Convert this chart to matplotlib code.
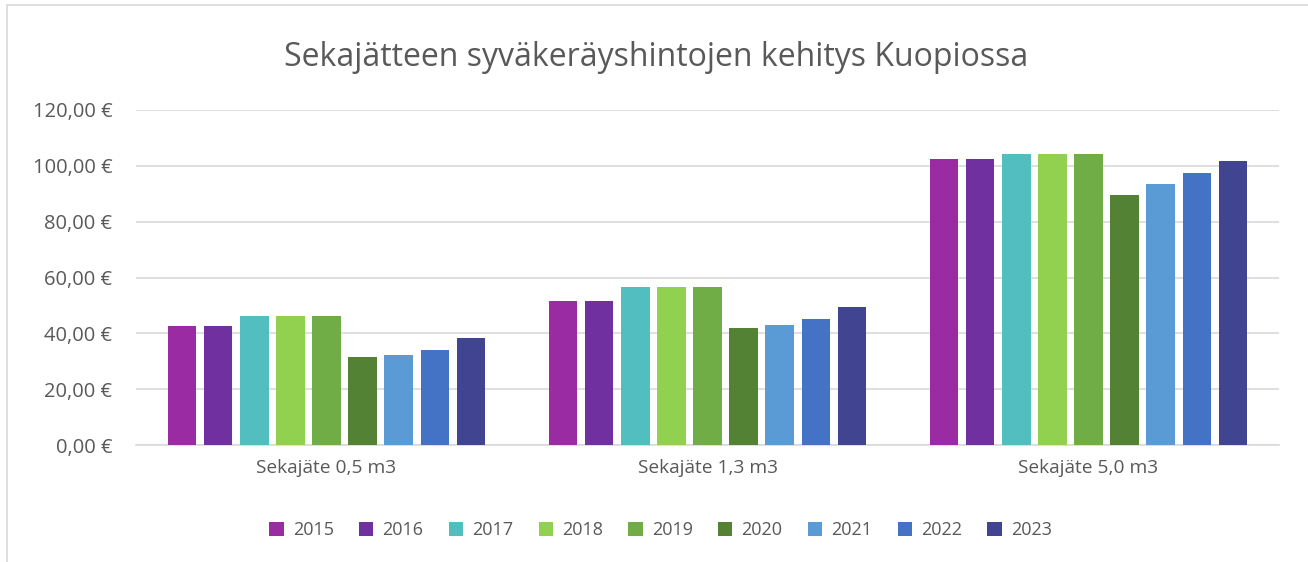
import numpy as np
from matplotlib import pyplot as plt
from matplotlib.ticker import FuncFormatter
from matplotlib.patches import Rectangle

categories = ['Sekajäte 0,5 m3', 'Sekajäte 1,3 m3', 'Sekajäte 5,0 m3']
years = ['2015', '2016', '2017', '2018', '2019', '2020', '2021', '2022', '2023']
prices = [
    [42.6, 51.6, 102.3],   # 2015
    [42.6, 51.6, 102.3],   # 2016
    [46.3, 56.7, 104.2],   # 2017
    [46.3, 56.7, 104.2],   # 2018
    [46.3, 56.7, 104.2],   # 2019
    [31.6, 41.9, 89.4],    # 2020
    [32.1, 42.9, 93.4],    # 2021
    [34.2, 45.2, 97.4],    # 2022
    [38.2, 49.5, 101.6],   # 2023
]
colors = ['#9B2BA3', '#7030A0', '#52BEC0', '#92D050', '#70AD47',
          '#548235', '#5B9BD5', '#4472C4', '#404491']

plt.rcParams['font.family'] = ['Open Sans', 'DejaVu Sans']
txt = '#595959'

fig = plt.figure(figsize=(13.08, 5.62), dpi=100)
ax = fig.add_axes([136/1308, 1 - 445/562, 1143/1308, 335/562])

x = np.arange(len(categories))
slot = 0.0946
width = 0.074
for i, (yr, vals) in enumerate(zip(years, prices)):
    ax.bar(x + (i - 4) * slot, vals, width, color=colors[i], label=yr, zorder=3)

ax.set_xlim(-0.5, 2.5)
ax.set_ylim(0, 120)
ax.set_yticks(np.arange(0, 121, 20))
ax.yaxis.set_major_formatter(FuncFormatter(lambda v, p: f'{v:.2f}'.replace('.', ',') + ' €'))
ax.set_xticks(x)
ax.set_xticklabels(categories)
ax.tick_params(axis='both', length=0, colors=txt)
ax.tick_params(axis='y', pad=17, labelsize=14.5)
ax.tick_params(axis='x', pad=10, labelsize=13.8)
ax.grid(axis='y', color='#d9d9d9', linewidth=1.2, zorder=0)
for s in ['top', 'right', 'left']:
    ax.spines[s].set_visible(False)
ax.spines['bottom'].set_color('#d9d9d9')
ax.spines['bottom'].set_linewidth(1.2)

fig.text(0.502, 1 - 58/562, 'Sekajätteen syväkeräyshintojen kehitys Kuopiossa',
         ha='center', va='center', fontsize=23, color=txt)

fig.legend(loc='center', bbox_to_anchor=(0.505, 1 - 530/562), ncol=9, frameon=False,
           fontsize=13, labelcolor=txt, handlelength=0.8, handleheight=0.8,
           handletextpad=0.5, columnspacing=1.4)

fig.patches.append(Rectangle((7/1308, -0.01), 1.2, 1 - 5/562 + 0.01, transform=fig.transFigure,
                             fill=False, edgecolor='#d9d9d9', linewidth=1.2))

fig.savefig('out.png', dpi=100)
